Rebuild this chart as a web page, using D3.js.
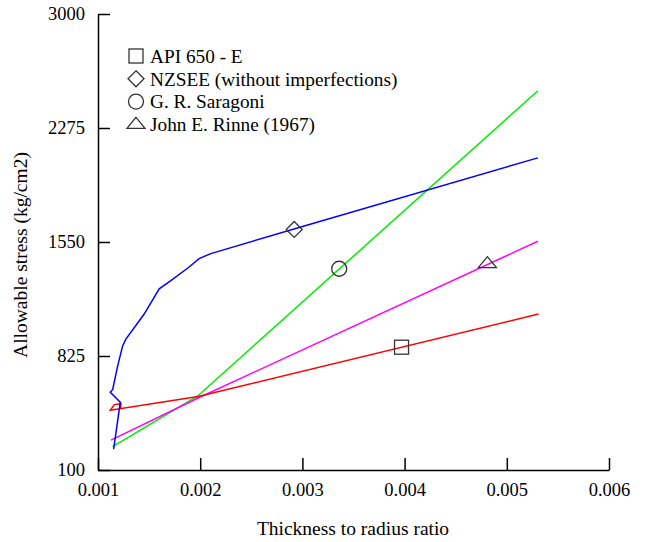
<!DOCTYPE html>
<html>
<head>
<meta charset="utf-8">
<script src="https://cdn.jsdelivr.net/npm/d3@7"></script>
<style>
  body { margin: 0; background: #fff; }
  text { font-family: "Liberation Serif", "Times New Roman", serif; fill: #000; }
</style>
</head>
<body>
<div id="chart"></div>
<script>
// series: [thickness/radius, stress]
var apiData = [[0.00122, 490], [0.001225, 522], [0.00116, 516], [0.00112, 480], [0.00198, 567], [0.00531, 1092]];
var nzseeData = [[0.001153, 232], [0.001218, 531], [0.00112, 595], [0.001144, 612], [0.001192, 761],
    [0.001241, 889], [0.001273, 932], [0.001452, 1092], [0.001599, 1252], [0.001713, 1305],
    [0.001892, 1391], [0.001989, 1444], [0.002104, 1476], [0.002934, 1636], [0.005304, 2085]];
var saragoniData = [[0.001143, 249], [0.001973, 569], [0.005304, 2512]];
var rinneData = [[0.001127, 290], [0.00198, 558], [0.005304, 1555]];

// one marker per curve
var markerPoints = {api: [0.00397, 881], nzsee: [0.00292, 1630], saragoni: [0.00336, 1380], rinne: [0.00481, 1412]};

var legendLabels = ["API 650 - E", "NZSEE (without imperfections)", "G. R. Saragoni", "John E. Rinne (1967)"];
var xTicks = [0.001, 0.002, 0.003, 0.004, 0.005, 0.006];
var yTicks = [100, 825, 1550, 2275, 3000];

var svgWidth = 647;
var svgHeight = 542;

var svg = d3.select("#chart")
    .append("svg")
    .attr("width", svgWidth)
    .attr("height", svgHeight);

var xScale = d3.scaleLinear().domain([0.001, 0.006]).range([98, 609]);
var yScale = d3.scaleLinear().domain([100, 3000]).range([470, 14]);

// axes with inward ticks
var bottomAxis = d3.axisBottom(xScale)
    .tickValues(xTicks)
    .tickFormat(d3.format(".3f"))
    .tickSizeInner(-12)
    .tickSizeOuter(0)
    .tickPadding(13);
var leftAxis = d3.axisLeft(yScale)
    .tickValues(yTicks)
    .tickFormat(d3.format("d"))
    .tickSizeInner(-12)
    .tickSizeOuter(0)
    .tickPadding(13);

var gx = svg.append("g")
    .attr("transform", "translate(0," + yScale(100) + ")")
    .call(bottomAxis);
var gy = svg.append("g")
    .attr("transform", "translate(" + xScale(0.001) + ",0)")
    .call(leftAxis);

[gx, gy].forEach(function(g) {
    g.selectAll("path, line").attr("stroke", "#000").attr("stroke-width", 1.5);
    g.selectAll("text").attr("font-size", "18.5px").attr("font-family", "Liberation Serif, serif").attr("fill", "#000");
});

// lines
var line = d3.line()
    .x(function(d) { return xScale(d[0]); })
    .y(function(d) { return yScale(d[1]); });

var series = [
    {data: saragoniData, color: "#00ee00"},
    {data: rinneData, color: "#ff00ff"},
    {data: apiData, color: "#ff0000"},
    {data: nzseeData, color: "#0000ff"}
];
series.forEach(function(s) {
    svg.append("path")
        .datum(s.data)
        .attr("d", line)
        .attr("fill", "none")
        .attr("stroke", s.color)
        .attr("stroke-width", 1.5);
});

// marker shapes
function drawMarker(g, type, cx, cy) {
    var m;
    if (type === "api") {
        m = g.append("rect").attr("x", cx - 7).attr("y", cy - 7).attr("width", 14).attr("height", 14);
    } else if (type === "nzsee") {
        m = g.append("path").attr("d", "M" + cx + "," + (cy - 8) + "L" + (cx + 8) + "," + cy + "L" + cx + "," + (cy + 8) + "L" + (cx - 8) + "," + cy + "Z");
    } else if (type === "saragoni") {
        m = g.append("circle").attr("cx", cx).attr("cy", cy).attr("r", 7.5);
    } else {
        m = g.append("path").attr("d", "M" + cx + "," + (cy - 7) + "L" + (cx + 9) + "," + (cy + 4) + "L" + (cx - 9) + "," + (cy + 4) + "Z");
    }
    m.attr("fill", "none").attr("stroke", "#333").attr("stroke-width", 1.3);
}

Object.keys(markerPoints).forEach(function(k) {
    var p = markerPoints[k];
    drawMarker(svg, k, xScale(p[0]), yScale(p[1]));
});

// legend
var legendKeys = ["api", "nzsee", "saragoni", "rinne"];
var legend = svg.append("g").attr("transform", "translate(136,56)");
legendKeys.forEach(function(k, i) {
    var yy = i * 22.8;
    drawMarker(legend, k, 0, yy);
    legend.append("text")
        .attr("x", 14)
        .attr("y", yy)
        .attr("dy", "0.35em")
        .attr("font-size", "19.3px")
        .text(legendLabels[i]);
});

// axis titles
svg.append("text")
    .attr("x", 353)
    .attr("y", 535)
    .attr("text-anchor", "middle")
    .attr("font-size", "19.5px")
    .text("Thickness to radius ratio");

svg.append("text")
    .attr("transform", "translate(27,255) rotate(-90)")
    .attr("text-anchor", "middle")
    .attr("font-size", "19.5px")
    .text("Allowable stress (kg/cm2)");
</script>
</body>
</html>
